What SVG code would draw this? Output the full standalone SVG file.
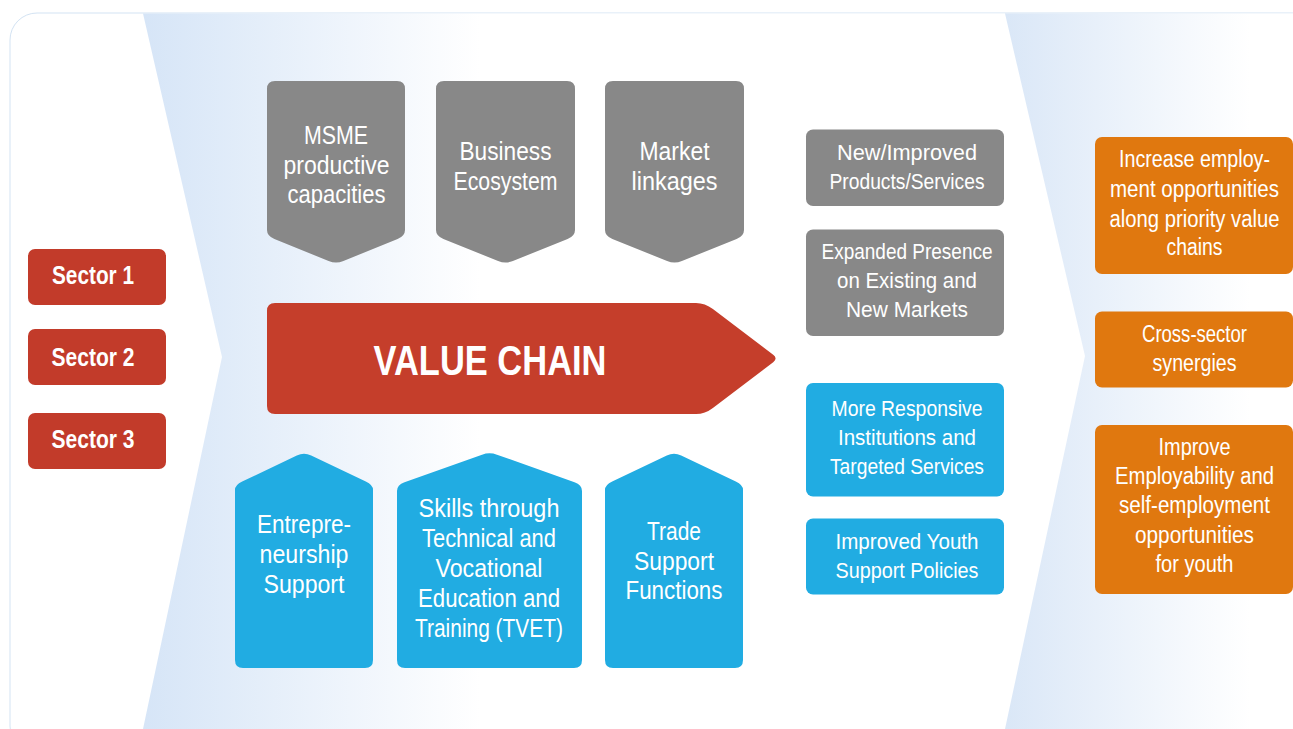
<svg xmlns="http://www.w3.org/2000/svg" width="1293" height="729" viewBox="0 0 1293 729">
  <defs>
    <linearGradient id="bandLeft" gradientUnits="userSpaceOnUse" x1="143" y1="0" x2="480" y2="0">
      <stop offset="0" stop-color="#d6e5f7"/>
      <stop offset="1" stop-color="#ffffff"/>
    </linearGradient>
    <linearGradient id="bandRight" gradientUnits="userSpaceOnUse" x1="1005" y1="0" x2="1250" y2="0">
      <stop offset="0" stop-color="#dae7f7"/>
      <stop offset="1" stop-color="#ffffff"/>
    </linearGradient>
    <style>
      .lbl { font-family: "Liberation Sans", Arial, sans-serif; fill: #ffffff; text-anchor: middle; }
      .b { font-weight: bold; }
      .gtxt { font-size: 25.5px; }
      .btxt { font-size: 25px; }
      .rtxt { font-size: 22px; }
      .otxt { font-size: 23px; }
      .stxt { font-size: 25px; }
      .sector { fill: #c23b2a; }
      .gray { fill: #888888; }
      .blue { fill: #21ace2; }
      .orange { fill: #e0780f; }
      .red { fill: #c53e2b; }
    </style>
  </defs>

  <!-- page background and card -->
  <rect x="0" y="0" width="1293" height="729" fill="#ffffff"/>
  <rect x="10" y="13" width="1320" height="740" rx="27" fill="#ffffff" stroke="#d3e3f3" stroke-width="1"/>

  <!-- chevron bands -->
  <polygon points="143,13.5 1005,13.5 1085,356 1005,729 143,729 222,357" fill="url(#bandLeft)"/>
  <polygon points="1005,13.5 1293,13.5 1293,729 1005,729 1085,356" fill="url(#bandRight)"/>

  <!-- sectors -->
  <g id="sector-1">
    <rect class="sector" x="28" y="249" width="138" height="56" rx="7"/>
    <text class="lbl b stxt" x="93" y="283.5" textLength="82" lengthAdjust="spacingAndGlyphs">Sector 1</text>
  </g>
  <g id="sector-2">
    <rect class="sector" x="28" y="329" width="138" height="56" rx="7"/>
    <text class="lbl b stxt" x="93" y="365.5" textLength="83" lengthAdjust="spacingAndGlyphs">Sector 2</text>
  </g>
  <g id="sector-3">
    <rect class="sector" x="28" y="413" width="138" height="56" rx="7"/>
    <text class="lbl b stxt" x="93" y="448" textLength="83" lengthAdjust="spacingAndGlyphs">Sector 3</text>
  </g>

  <!-- downward pentagons -->
  <g id="msme">
    <path class="gray" d="M275,81 H397 Q405,81 405,89 V230 Q405,236 397.6,239 L343.4,261 Q336,264 328.6,261 L274.4,239 Q267,236 267,230 V89 Q267,81 275,81 Z"/>
    <text class="lbl gtxt" x="336" y="144" textLength="64" lengthAdjust="spacingAndGlyphs">MSME</text>
    <text class="lbl gtxt" x="336.5" y="174" textLength="106" lengthAdjust="spacingAndGlyphs">productive</text>
    <text class="lbl gtxt" x="336.5" y="203" textLength="98" lengthAdjust="spacingAndGlyphs">capacities</text>
  </g>
  <g id="business-ecosystem">
    <path class="gray" d="M444,81 H567 Q575,81 575,89 V230 Q575,236 567.6,239 L512.9,261 Q505.5,264 498.1,261 L443.4,239 Q436,236 436,230 V89 Q436,81 444,81 Z"/>
    <text class="lbl gtxt" x="505.5" y="160" textLength="92" lengthAdjust="spacingAndGlyphs">Business</text>
    <text class="lbl gtxt" x="505.5" y="189.5" textLength="104" lengthAdjust="spacingAndGlyphs">Ecosystem</text>
  </g>
  <g id="market-linkages">
    <path class="gray" d="M613,81 H736 Q744,81 744,89 V230 Q744,236 736.6,239 L681.9,261 Q674.5,264 667.1,261 L612.4,239 Q605,236 605,230 V89 Q605,81 613,81 Z"/>
    <text class="lbl gtxt" x="674.5" y="160" textLength="70" lengthAdjust="spacingAndGlyphs">Market</text>
    <text class="lbl gtxt" x="674.5" y="189.5" textLength="86" lengthAdjust="spacingAndGlyphs">linkages</text>
  </g>

  <!-- value chain arrow -->
  <g id="value-chain">
    <path class="red" d="M275,303 H696 Q705,303 712.9,309.1 L773.2,354.8 Q778,358.5 773.2,362.2 L712.9,407.9 Q705,414 696,414 H275 Q267,414 267,406 V311 Q267,303 275,303 Z"/>
    <text class="lbl b" x="490" y="375" font-size="42" textLength="233" lengthAdjust="spacingAndGlyphs">VALUE CHAIN</text>
  </g>

  <!-- upward houses -->
  <g id="entrepreneurship-support">
    <path class="blue" d="M243,668 Q235,668 235,660 V490 Q235,485 242.2,481.6 L296.8,455.5 Q304,452 311.2,455.5 L365.8,481.6 Q373,485 373,490 V660 Q373,668 365,668 Z"/>
    <text class="lbl btxt" x="304" y="533" textLength="94" lengthAdjust="spacingAndGlyphs">Entrepre-</text>
    <text class="lbl btxt" x="304" y="563" textLength="89" lengthAdjust="spacingAndGlyphs">neurship</text>
    <text class="lbl btxt" x="304" y="593" textLength="81" lengthAdjust="spacingAndGlyphs">Support</text>
  </g>
  <g id="tvet-skills">
    <path class="blue" d="M405,668 Q397,668 397,660 V491 Q397,485 404.5,482.3 L482,454.7 Q489.5,452 497,454.7 L574.5,482.3 Q582,485 582,491 V660 Q582,668 574,668 Z"/>
    <text class="lbl btxt" x="489" y="517" textLength="141" lengthAdjust="spacingAndGlyphs">Skills through</text>
    <text class="lbl btxt" x="489" y="547" textLength="134" lengthAdjust="spacingAndGlyphs">Technical and</text>
    <text class="lbl btxt" x="489" y="577" textLength="107" lengthAdjust="spacingAndGlyphs">Vocational</text>
    <text class="lbl btxt" x="489" y="607" textLength="142" lengthAdjust="spacingAndGlyphs">Education and</text>
    <text class="lbl btxt" x="489" y="637" textLength="148" lengthAdjust="spacingAndGlyphs">Training (TVET)</text>
  </g>
  <g id="trade-support">
    <path class="blue" d="M613,668 Q605,668 605,660 V490 Q605,485 612.2,481.6 L666.8,455.5 Q674,452 681.2,455.5 L735.8,481.6 Q743,485 743,490 V660 Q743,668 735,668 Z"/>
    <text class="lbl btxt" x="674" y="540" textLength="54" lengthAdjust="spacingAndGlyphs">Trade</text>
    <text class="lbl btxt" x="674" y="570" textLength="80" lengthAdjust="spacingAndGlyphs">Support</text>
    <text class="lbl btxt" x="674" y="599" textLength="97" lengthAdjust="spacingAndGlyphs">Functions</text>
  </g>

  <!-- outputs -->
  <g id="new-products">
    <rect class="gray" x="806" y="129.5" width="198" height="76.5" rx="7"/>
    <text class="lbl rtxt" x="907" y="159.5" textLength="140" lengthAdjust="spacingAndGlyphs">New/Improved</text>
    <text class="lbl rtxt" x="907" y="188.5" textLength="155" lengthAdjust="spacingAndGlyphs">Products/Services</text>
  </g>
  <g id="expanded-presence">
    <rect class="gray" x="806" y="229.5" width="198" height="106.5" rx="7"/>
    <text class="lbl rtxt" x="907" y="259" textLength="171" lengthAdjust="spacingAndGlyphs">Expanded Presence</text>
    <text class="lbl rtxt" x="907" y="288" textLength="140" lengthAdjust="spacingAndGlyphs">on Existing and</text>
    <text class="lbl rtxt" x="907" y="317" textLength="122" lengthAdjust="spacingAndGlyphs">New Markets</text>
  </g>
  <g id="responsive-institutions">
    <rect class="blue" x="806" y="383" width="198" height="113.5" rx="7"/>
    <text class="lbl rtxt" x="907" y="416" textLength="151" lengthAdjust="spacingAndGlyphs">More Responsive</text>
    <text class="lbl rtxt" x="907" y="445" textLength="138" lengthAdjust="spacingAndGlyphs">Institutions and</text>
    <text class="lbl rtxt" x="907" y="474" textLength="154" lengthAdjust="spacingAndGlyphs">Targeted Services</text>
  </g>
  <g id="youth-policies">
    <rect class="blue" x="806" y="518.5" width="198" height="76" rx="7"/>
    <text class="lbl rtxt" x="907" y="548.5" textLength="143" lengthAdjust="spacingAndGlyphs">Improved Youth</text>
    <text class="lbl rtxt" x="907" y="577.5" textLength="143" lengthAdjust="spacingAndGlyphs">Support Policies</text>
  </g>

  <!-- outcomes -->
  <g id="employment-opportunities">
    <rect class="orange" x="1095" y="137" width="198" height="137" rx="7"/>
    <text class="lbl otxt" x="1194.5" y="166.5" textLength="151" lengthAdjust="spacingAndGlyphs">Increase employ-</text>
    <text class="lbl otxt" x="1194.5" y="196.5" textLength="169" lengthAdjust="spacingAndGlyphs">ment opportunities</text>
    <text class="lbl otxt" x="1194.5" y="226.5" textLength="170" lengthAdjust="spacingAndGlyphs">along priority value</text>
    <text class="lbl otxt" x="1194.5" y="255" textLength="56" lengthAdjust="spacingAndGlyphs">chains</text>
  </g>
  <g id="cross-sector">
    <rect class="orange" x="1095" y="311.5" width="198" height="76" rx="7"/>
    <text class="lbl otxt" x="1194.5" y="341.5" textLength="105" lengthAdjust="spacingAndGlyphs">Cross-sector</text>
    <text class="lbl otxt" x="1194.5" y="370.5" textLength="84" lengthAdjust="spacingAndGlyphs">synergies</text>
  </g>
  <g id="youth-employability">
    <rect class="orange" x="1095" y="425" width="198" height="169" rx="7"/>
    <text class="lbl otxt" x="1194.5" y="454.5" textLength="72" lengthAdjust="spacingAndGlyphs">Improve</text>
    <text class="lbl otxt" x="1194.5" y="483.5" textLength="159" lengthAdjust="spacingAndGlyphs">Employability and</text>
    <text class="lbl otxt" x="1194.5" y="513" textLength="151" lengthAdjust="spacingAndGlyphs">self-employment</text>
    <text class="lbl otxt" x="1194.5" y="542.5" textLength="119" lengthAdjust="spacingAndGlyphs">opportunities</text>
    <text class="lbl otxt" x="1194.5" y="571.5" textLength="78" lengthAdjust="spacingAndGlyphs">for youth</text>
  </g>
</svg>
